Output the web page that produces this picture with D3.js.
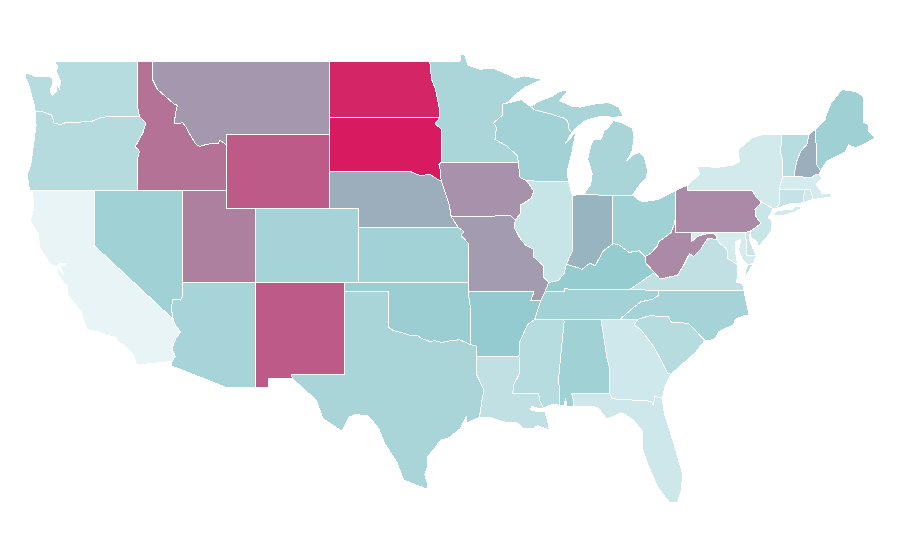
<!DOCTYPE html>
<html>
<head>
<meta charset="utf-8">
<script src="https://cdn.jsdelivr.net/npm/d3@7"></script>
<style>
  html, body { margin: 0; padding: 0; background: #fff; }
  .state { stroke: #fff; stroke-width: 1; stroke-linejoin: round; shape-rendering: crispEdges; }
</style>
</head>
<body>
<div id="map"></div>
<script>
/*********** State values ***********/
const stateNames = ["WA","OR","CA","NV","ID","MT","WY","UT","AZ","CO","NM","ND","SD","NE","KS","OK","TX",
  "MN","IA","MO","AR","LA","WI","IL","MI","IN","OH","KY","TN","MS","AL","GA","FL","SC","NC","VA","WV",
  "PA","NY","VT","NH","ME","MA","CT","RI","NJ","DE","MD"];
const stateValues = [28,29,0,41,75,64,82,71,37,38,82,97,100,58,39.5,44,36,
  35,66,63,48,23,40,19,36,56,41,47,40,28,41,14,15,28,38,23,68,
  68,12,27,58,42,11,20,15,18,17,11];

const colorDomain = [0,50,100];
const colorRange = ["#e8f4f6","#90c9ce","#d81b60"];

/*********** Shared borders, lon/lat ***********/
const rev = (a) => [...a].reverse();

const waOr = [[-124,46.25],[-123.55,46.27],[-123.2,46.15],[-122.88,46.08],[-122.8,45.85],[-122.75,45.65],[-122.3,45.55],[-121.9,45.68],[-121.2,45.65],[-120.65,45.73],[-120.2,45.72],[-119.6,45.92],[-119,46],[-116.92,46]];
const orId = [[-116.92,46],[-116.48,45.65],[-116.7,45.1],[-116.95,44.75],[-117.22,44.35],[-117,44.2],[-116.93,44.1],[-117.03,43.8],[-117.03,42]];
const mtId = [[-116.05,49],[-116.05,48],[-115.7,47.45],[-115.05,47],[-114.55,46.65],[-114.35,46.6],[-114.5,46.1],[-114.55,45.6],[-114,45.65],[-113.8,45.45],[-113.45,44.95],[-113.1,44.5],[-112.85,44.37],[-112.3,44.5],[-111.6,44.52],[-111.45,44.7],[-111.05,44.47]];
const nvAz = [[-114.04,36.2],[-114.15,36.05],[-114.7,36.1],[-114.75,35.5],[-114.63,35]];
const caAz = [[-114.63,35],[-114.57,34.8],[-114.14,34.3],[-114.45,34],[-114.72,33.4],[-114.5,33],[-114.72,32.72]];
const ndMn = [[-97.23,49],[-97.1,48],[-96.85,47.5],[-96.55,46.3],[-96.56,45.94]];
const sdMn = [[-96.56,45.94],[-96.85,45.6],[-96.45,45.3],[-96.45,43.5]];
const sdIa = [[-96.45,43.5],[-96.6,43.4],[-96.5,43.05],[-96.45,42.5]];
const neSd = [[-96.45,42.5],[-96.7,42.6],[-97.2,42.85],[-97.9,42.8],[-98.5,43],[-104.05,43]];
const iaNe = [[-96.45,42.5],[-96.1,41.7],[-95.9,41.2],[-95.77,40.58]];
const ksMo = [[-95.3,40],[-94.9,39.75],[-95.1,39.55],[-94.6,39.12],[-94.62,37]];
const redRiver = [[-100,34.56],[-99.7,34.4],[-99.2,34.3],[-98.6,34.15],[-98.1,34.13],[-97.7,33.95],[-97.2,33.8],[-96.9,33.85],[-96.4,33.75],[-95.8,33.85],[-95.2,33.9],[-94.48,33.64]];
const okAr = [[-94.62,36.5],[-94.43,35.4],[-94.48,33.64]];
const arTx = [[-94.48,33.64],[-94.05,33.55],[-94.04,33]];
const txLa = [[-94.04,33],[-94.04,32],[-93.55,31.2],[-93.7,30.5],[-93.85,29.7]];
const mnWi = [[-92.02,46.71],[-92.29,46.66],[-92.29,46.07],[-92.9,45.65],[-92.7,45.4],[-92.8,44.75],[-92,44.4],[-91.25,43.85],[-91.22,43.5]];
const iaMo = [[-95.77,40.58],[-91.73,40.61],[-91.42,40.38]];
const iaIl = [[-91.42,40.38],[-91.1,40.7],[-91.05,41.2],[-90.35,41.55],[-90.15,41.95],[-90.64,42.5]];
const iaWi = [[-90.64,42.5],[-91.1,42.7],[-91.22,43.5]];
const ilMo = [[-91.42,40.38],[-91.5,40],[-91.1,39.4],[-90.7,39],[-90.2,38.8],[-90.2,38.4],[-89.5,37.9],[-89.5,37.3],[-89.15,37]];
const ilKy = [[-89.15,37],[-88.5,37.1],[-88.1,37.5],[-87.95,38]];
const ilIn = [[-87.95,38],[-87.55,38.7],[-87.53,39.35],[-87.53,41.7]];
const inKy = [[-87.95,38],[-87.6,37.9],[-87.15,37.8],[-86.9,37.7],[-86.35,38.05],[-86,37.9],[-85.45,38.7],[-84.8,39.1]];
const ohKy = [[-84.8,39.1],[-84.4,39.05],[-83.7,38.63],[-83,38.72],[-82.6,38.4]];
const ohWv = [[-82.6,38.4],[-82.2,38.6],[-81.75,39],[-81.7,39.2],[-80.85,39.7],[-80.65,40.1],[-80.52,40.64]];
const kyWv = [[-82.6,38.4],[-82.55,38.05],[-81.97,37.54]];
const vaWv = [[-81.97,37.54],[-81.6,37.2],[-81.2,37.25],[-80.4,37.4],[-79.95,38],[-79.6,38.55],[-79.3,38.42],[-78.87,38.76],[-78.35,39.4],[-77.72,39.32]];
const mdWv = [[-79.48,39.2],[-79.07,39.47],[-78.75,39.58],[-78.2,39.68],[-77.83,39.6],[-77.72,39.32]];
const mdVa = [[-77.72,39.32],[-77.5,39.1],[-77.05,38.8],[-77,38.3],[-76.3,37.95]];
const arMs = [[-90.1,35],[-90.6,34.7],[-91.1,33.8],[-91.17,33]];
const msLa = [[-91.17,33],[-91.1,32.6],[-91.17,32],[-91.5,31.5],[-91.6,31],[-89.85,31],[-89.75,30.6],[-89.5,30.2]];
const tnNc = [[-81.68,36.59],[-81.7,36.3],[-82.1,36.1],[-82.9,35.95],[-83.5,35.57],[-84.32,35]];
const alGa = [[-85.6,35],[-85.18,32.85],[-85,32.3],[-85.05,31.55],[-85,31]];
const gaFl = [[-85,31],[-84.85,30.7],[-82.2,30.57],[-82.05,30.37],[-81.95,30.83],[-81.45,30.72]];
const gaSc = [[-83.1,35],[-83.35,34.7],[-82.9,34.45],[-82,33.5],[-81.4,32.6],[-81.1,32.1],[-80.85,32.03]];
const ncSc = [[-83.1,35],[-82.3,35.2],[-81.05,35.15],[-80.8,34.82],[-79.67,34.8],[-78.55,33.86]];
const alMs = [[-88.2,35],[-88.1,34.9],[-88.47,31.9],[-88.4,30.35]];
const flAl = [[-87.5,30.3],[-87.45,30.55],[-87.6,31],[-85,31]];
const wiMi = [[-90.4,46.55],[-90.1,46.35],[-89.1,46.15],[-88.1,45.9],[-87.85,45.75],[-87.8,45.35],[-87.6,45.1]];
const paNy = [[-79.76,42.27],[-79.76,42],[-75.35,42],[-75.05,41.6],[-74.7,41.36]];
const paNj = [[-74.7,41.36],[-75.15,40.95],[-75.1,40.6],[-74.75,40.2],[-75.4,39.8]];
const njNy = [[-74.7,41.36],[-73.9,41]];
const vtNh = [[-71.5,45],[-71.6,44.5],[-72.05,44.1],[-72.3,43.6],[-72.45,43],[-72.45,42.73]];
const nyVt = [[-73.27,42.75],[-73.25,43.6],[-73.4,44],[-73.35,45]];
const maNh = [[-72.45,42.73],[-71.3,42.7],[-71,42.87],[-70.8,42.85]];
const nhMe = [[-71.05,45.3],[-71,44.5],[-70.97,43.4],[-70.7,43.07],[-70.8,42.85]];

/*********** State outlines, one array of rings per state ***********/
const stateRings = {
  WA: [[[-124,46.25],[-124.1,46.7],[-124.2,47],[-124.4,47.6],[-124.7,48.15],[-124.7,48.38],[-124,48.17],[-123.1,48.15],[-122.8,48.1],[-122.8,47.8],[-123,47.4],[-122.85,47.15],[-122.6,47.3],[-122.5,47.7],[-122.35,47.45],[-122.3,47.9],[-122.55,48.4],[-122.5,48.75],[-122.75,49],[-117.03,49],[-117.04,46.42],...rev(waOr)]],
  OR: [[...waOr,...orId,[-120,42],[-124.4,42],[-124.55,42.85],[-124.3,43.4],[-124.1,44.6],[-123.95,45.5]]],
  CA: [[[-124.2,42],[-120,42],[-120,39],...caAz,[-117.12,32.53],[-117.25,32.85],[-117.37,33.1],[-118,33.65],[-118.4,33.75],[-118.5,34.03],[-119.2,34.15],[-119.6,34.3],[-120.5,34.45],[-120.7,34.95],[-120.9,35.4],[-121.85,36.4],[-121.8,36.85],[-122.05,36.95],[-122.5,37.5],[-122.45,37.78],[-122.1,37.45],[-122.35,37.85],[-121.85,38.05],[-122.4,38],[-122.55,37.85],[-123,38],[-123.7,38.9],[-123.8,39.65],[-124.36,40.33],[-124.1,41]]],
  NV: [[[-120,42],[-114.04,42],...nvAz,[-120,39]]],
  ID: [[[-117.03,49],...mtId,[-111.05,42],[-117.03,42],...rev(orId),[-117.04,46.42]]],
  MT: [[...mtId,[-111.05,45],[-104.05,45],[-104.05,49]]],
  WY: [[[-111.05,45],[-104.05,45],[-104.05,41],[-111.05,41]]],
  UT: [[[-114.04,42],[-111.05,42],[-111.05,41],[-109.05,41],[-109.05,37],[-114.04,37]]],
  AZ: [[[-114.04,37],[-109.05,37],[-109.05,31.33],[-111.07,31.33],[-114.81,32.5],...rev(caAz),...rev(nvAz)]],
  CO: [[[-109.05,41],[-102.05,41],[-102.05,37],[-109.05,37]]],
  NM: [[[-109.05,37],[-103,37],[-103.04,32],[-106.62,32],[-106.53,31.78],[-108.2,31.78],[-108.2,31.33],[-109.05,31.33]]],
  ND: [[[-104.05,49],...ndMn,[-104.05,45.94]]],
  SD: [[[-104.05,45.94],...sdMn,...sdIa,...neSd]],
  NE: [[[-104.05,43],...rev(neSd),...iaNe,[-95.3,40],[-102.05,40],[-102.05,41],[-104.05,41]]],
  KS: [[[-102.05,40],...ksMo,[-102.05,37]]],
  OK: [[[-103,37],[-94.62,37],...okAr,...rev(redRiver),[-100,36.5],[-103,36.5]]],
  TX: [[[-103,36.5],[-100,36.5],...redRiver,...arTx,...txLa,[-94.7,29.4],[-94.75,29.75],[-95.17,29.07],[-95.9,28.6],[-96.5,28.45],[-97,27.9],[-97.35,27.6],[-97.4,27],[-97.55,26.6],[-97.35,26],[-97.4,25.8],[-98.2,26.05],[-99,26.3],[-99.45,27.25],[-100.3,28.3],[-100.7,29.1],[-101.4,29.77],[-102.3,29.85],[-102.7,29.7],[-103.2,28.95],[-104.5,29.65],[-104.9,30.6],[-106.53,31.78],[-106.62,32],[-103.04,32]]],
  MN: [[...ndMn.slice(0,1),[-95.15,49],[-95.15,49.38],[-94.85,49.33],[-94.6,48.75],[-93.8,48.55],[-92.95,48.62],[-92,48.3],[-91.4,48.07],[-90.8,48.2],[-89.6,48],[-90.7,47.6],[-91.3,47.25],...mnWi,...rev(sdMn),...rev(ndMn)]],
  IA: [[[-96.45,43.5],...rev(iaWi),...rev(iaIl),...rev(iaMo),...rev(iaNe),...rev(sdIa)]],
  MO: [[...iaMo,...ilMo,[-89.4,36.5],[-89.7,36],[-90.37,36],[-90.15,36.5],[-94.62,36.5],[-94.62,37],...rev(ksMo),[-95.77,40.58]]],
  AR: [[[-94.62,36.5],[-90.15,36.5],[-90.37,36],[-89.7,36],...arMs,...rev(arTx),...rev(okAr)]],
  LA: [[[-94.04,33],...msLa,[-89.8,30.15],[-90.3,30.3],[-90.4,30.1],[-89.9,30],[-89.4,30],[-89.2,29.4],[-89.1,29],[-89.9,29.25],[-90.2,29.1],[-90.9,29.1],[-91.3,29.4],[-92.25,29.45],[-93.1,29.68],...rev(txLa)]],
  WI: [[...mnWi.slice(0,1),[-91,46.9],[-90.75,46.75],...wiMi,[-88,44.55],[-87.3,45.15],[-87.5,44.4],[-87.55,44.1],[-87.9,43],[-87.8,42.49],[-90.64,42.5],...iaWi,...rev(mnWi)]],
  IL: [[[-87.8,42.49],...rev(iaIl),...ilMo,...ilKy,...ilIn,[-87.6,41.85]]],
  MI: [[[-84.8,41.72],[-83.45,41.73],[-83.15,42.1],[-82.85,42.4],[-82.5,42.7],[-82.45,43.1],[-82.65,43.8],[-82.95,44.05],[-83.35,43.95],[-83.85,43.6],[-83.5,44.1],[-83.35,44.85],[-83.45,45.35],[-84.2,45.65],[-84.75,45.78],[-85.1,45.4],[-85.4,45.2],[-85.6,44.75],[-86.1,44.75],[-86.3,44.4],[-86.5,43.7],[-86.2,42.9],[-86.3,42.3],[-86.8,41.76]],
       [...wiMi.slice(0,1),[-89.7,46.85],[-88.9,47.1],[-88.4,47.35],[-87.8,47.45],[-88.25,47],[-88.4,46.85],[-87.6,46.55],[-87,46.5],[-86.2,46.65],[-85.1,46.75],[-84.4,46.5],[-84.1,46],[-84.75,45.95],[-85.6,46],[-86.4,45.85],[-86.8,45.7],[-87.3,45.35],...rev(wiMi).slice(0,6)]],
  IN: [[[-87.53,41.7],[-87.2,41.76],[-86.8,41.76],[-84.8,41.72],...rev(inKy),...ilIn.slice(1,3)]],
  OH: [[[-84.8,41.72],[-83.45,41.73],[-83,41.45],[-82.7,41.38],[-81.7,41.5],[-80.52,41.98],...rev(ohWv),...rev(ohKy)]],
  KY: [[...ilKy,...inKy,...ohKy,...kyWv,[-83.68,36.6],[-88.07,36.65],[-88.07,36.5],[-89.4,36.5]]],
  TN: [[[-89.4,36.5],[-88.07,36.5],[-88.07,36.65],[-83.68,36.6],...tnNc,[-90.1,35],[-89.7,36]]],
  MS: [[[-90.1,35],...alMs,[-88.9,30.4],...rev(msLa),...rev(arMs)]],
  AL: [[[-88.2,35],...alGa,...rev(flAl),[-87.9,30.25],[-88,30.7],[-88.1,30.35],...rev(alMs).slice(0,3)]],
  GA: [[...alGa.slice(0,1),...gaSc,[-81.2,31.5],...rev(gaFl),...rev(alGa)]],
  FL: [[...flAl,...gaFl.slice(1),[-81.3,29.9],[-80.7,28.4],[-80.05,26.6],[-80.15,25.75],[-80.4,25.1],[-80.95,25.08],[-81.7,25.85],[-82.4,27.1],[-82.75,27.95],[-82.75,28.9],[-83.4,29.55],[-84.2,29.95],[-85.2,29.6],[-85.85,30.25]]],
  SC: [[...ncSc,[-79.2,33.2],[-79.9,32.7],...rev(gaSc)]],
  NC: [[[-84.32,35],...ncSc,[-77.9,33.9],[-77.6,34.35],[-76.6,34.7],[-76.5,35],[-75.9,35.2],[-75.55,35.25],[-75.9,36.55],...tnNc]],
  VA: [[[-83.68,36.6],[-75.9,36.55],[-76,36.95],[-76.4,37],[-76.3,37.6],...rev(mdVa),...rev(vaWv)],
       [[-75.95,37.15],[-75.3,37.95],[-75.65,37.95]]],
  WV: [[[-80.52,40.64],[-80.52,39.72],[-79.48,39.72],...mdWv,...rev(vaWv),...rev(kyWv),...ohWv]],
  PA: [[[-80.52,41.98],...paNy,...paNj,[-75.78,39.72],[-80.52,39.72]]],
  NY: [[...paNy,...njNy,[-73.65,41],[-73.5,41.3],[-73.5,42.05],...nyVt,[-74.7,45],[-75.3,44.85],[-76.3,44.2],[-76.2,43.55],[-76.7,43.35],[-77.6,43.25],[-79.05,43.27],[-78.9,42.85]],
       [[-74,40.6],[-73.6,40.9],[-72.6,40.98],[-72.3,41.15],[-71.9,41.05],[-72.5,40.8],[-73.3,40.63]]],
  VT: [[[-73.35,45],...vtNh,...nyVt]],
  NH: [[...vtNh.slice(0,1),...nhMe,...rev(maNh),...rev(vtNh)]],
  ME: [[...nhMe.slice(0,1),[-70.4,45.8],[-70.25,46.2],[-70,46.7],[-69.25,47.45],[-68.3,47.35],[-67.8,47.07],[-67.8,45.7],[-67.45,45.55],[-67.45,45.2],[-67,44.85],[-67.6,44.55],[-68.3,44.3],[-68.8,44.45],[-69.05,44.05],[-69.8,43.75],[-70.25,43.6],[-70.7,43.07],[-70.97,43.4],[-71,44.5]]],
  MA: [[[-73.5,42.05],[-73.27,42.75],...maNh,[-70.6,42.65],[-71,42.3],[-70.65,41.95],[-70.55,41.8],[-70,41.8],[-70,42.05],[-69.95,41.65],[-70.65,41.55],[-71.2,41.5],[-71.38,42.02],[-71.8,42.02]]],
  CT: [[[-73.5,42.05],[-71.8,42.02],[-71.85,41.32],[-72.9,41.25],[-73.65,41],[-73.5,41.3]]],
  RI: [[[-71.8,42.02],[-71.38,42.02],[-71.2,41.5],[-71.85,41.32]]],
  NJ: [[...njNy,[-74.25,40.5],[-74,40.4],[-74.05,39.8],[-74.4,39.4],[-74.9,38.95],[-75,39.2],[-75.5,39.5],...rev(paNj)]],
  DE: [[[-75.78,39.72],[-75.4,39.8],[-75.55,39.45],[-75.4,39.05],[-75.05,38.45],[-75.7,38.46]]],
  MD: [[[-79.48,39.72],[-75.78,39.72],[-75.7,38.46],[-75.05,38.45],[-75.25,38.03],[-75.65,37.95],[-75.95,38.2],[-76.2,38.6],[-76.25,38.8],[-76.1,39.35],[-76.45,39.2],[-76.5,38.8],[-76.4,38.3],...rev(mdVa),...rev(mdWv)]]
};

/*********** SVG and scales ***********/
const svgWidth = 900;
const svgHeight = 560;

const svg = d3.select("#map")
  .append("svg")
  .attr("width", svgWidth)
  .attr("height", svgHeight)
  .style("display", "block");

// map is stretched plate carree, so plain linear scales do it
const xScale = d3.scaleLinear().domain([-124.7, -67]).range([25, 875]);
const yScale = d3.scaleLinear().domain([49, 25]).range([61, 504]);
const colorScale = d3.scaleLinear().domain(colorDomain).range(colorRange);

const projection = d3.geoTransform({
  point: function (lon, lat) {
    this.stream.point(xScale(lon), yScale(lat));
  }
});
const path = d3.geoPath(projection);

const features = stateNames.map((name, i) => ({
  type: "Feature",
  id: name,
  properties: { value: stateValues[i] },
  geometry: {
    type: "MultiPolygon",
    coordinates: stateRings[name].map((ring) => [[...ring, ring[0]]])
  }
}));

svg.append("g")
  .selectAll("path")
  .data(features)
  .enter()
  .append("path")
  .attr("class", "state")
  .attr("d", path)
  .attr("fill", (d) => colorScale(d.properties.value));
</script>
</body>
</html>
